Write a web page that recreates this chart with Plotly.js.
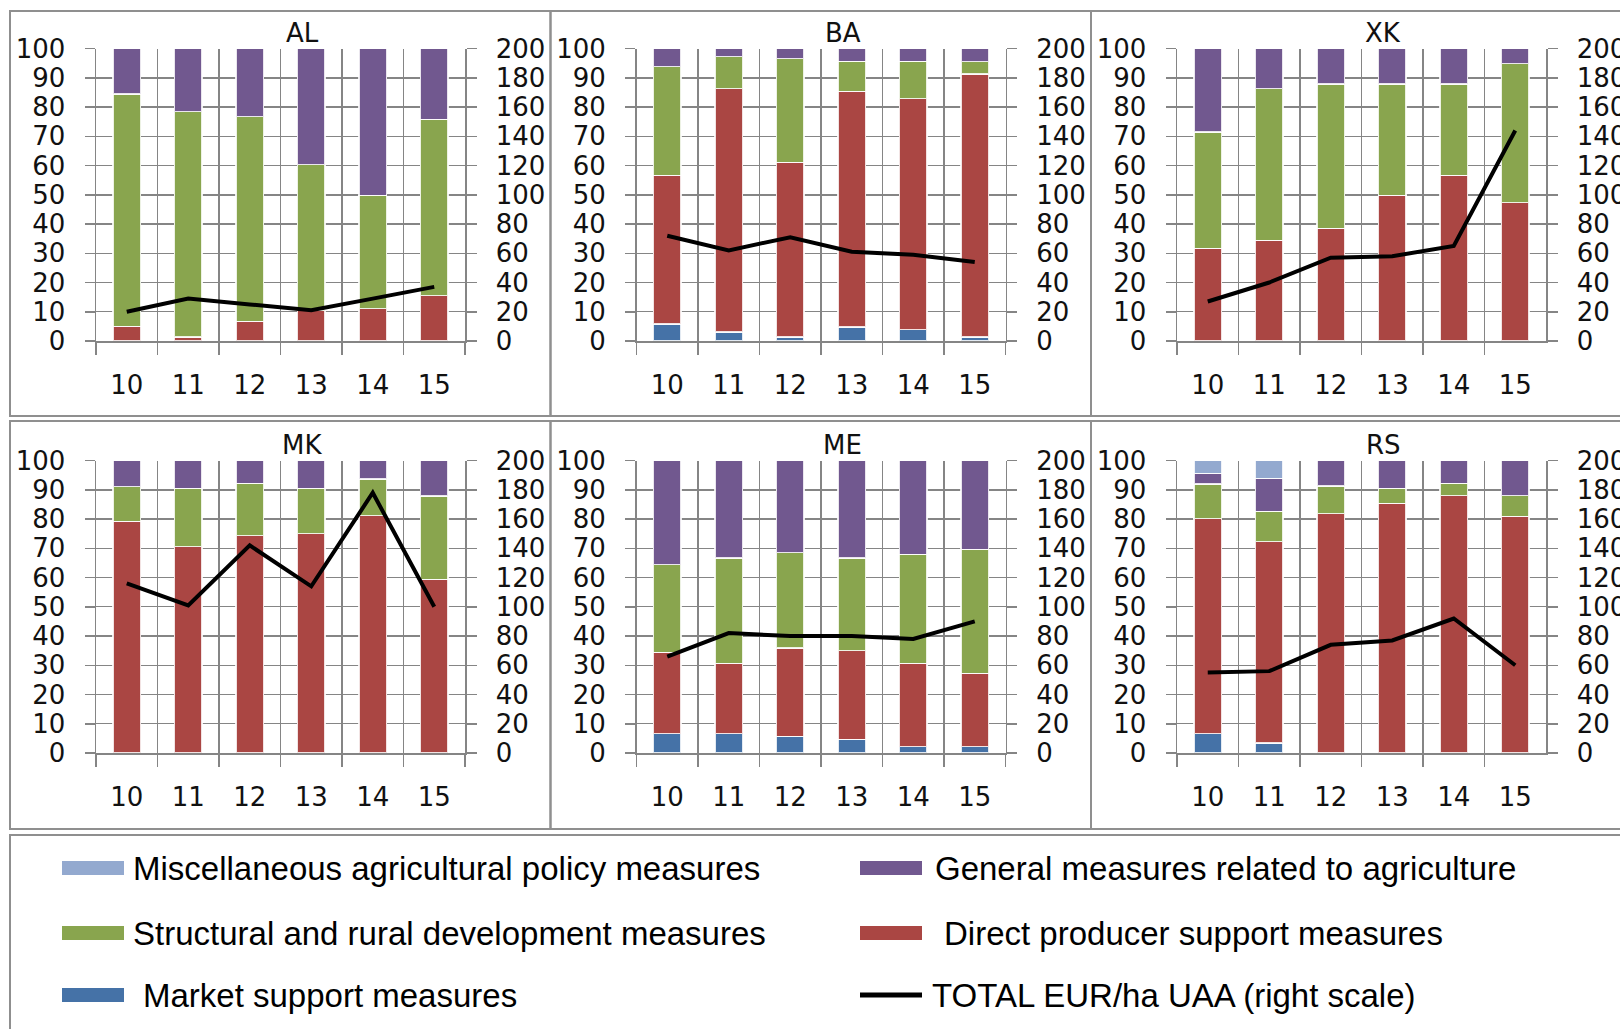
<!DOCTYPE html>
<html>
<head>
<meta charset="utf-8">
<script src="https://cdn.plot.ly/plotly-3.0.1.min.js"></script>
<style>html,body{margin:0;padding:0;background:#fff;}#chart{width:1620px;height:1029px;}</style>
</head>
<body>
<div id="chart"></div>
<script>
// ---------------- DATA ----------------
const years = ['10', '11', '12', '13', '14', '15'];
const countries = ['AL', 'BA', 'XK', 'MK', 'ME', 'RS'];
const seriesNames = [
  'Market support measures',
  'Direct producer support measures',
  'Structural and rural development measures',
  'General measures related to agriculture',
  'Miscellaneous agricultural policy measures'
];
const lineName = 'TOTAL EUR/ha UAA (right scale)';

// shares (%) per group of measures
const alMarket     = [0, 0, 0, 0, 0, 0];
const alDirect     = [5, 1.4, 6.7, 10.4, 11, 15.5];
const alStructural = [79.5, 77, 70, 49.9, 38.8, 60.3];
const alGeneral    = [15.5, 21.6, 23.3, 39.7, 50.2, 24.2];
const alMisc       = [0, 0, 0, 0, 0, 0];
const alTotal      = [20, 29, 25, 21, 29, 37];

const baMarket     = [5.8, 3.1, 1.4, 4.8, 3.9, 1.4];
const baDirect     = [50.9, 83.2, 59.7, 80.6, 78.9, 89.9];
const baStructural = [37.1, 10.9, 35.4, 10.3, 12.9, 4.2];
const baGeneral    = [6.2, 2.8, 3.5, 4.3, 4.3, 4.5];
const baMisc       = [0, 0, 0, 0, 0, 0];
const baTotal      = [72, 62, 71, 61, 59, 54];

const xkMarket     = [0, 0, 0, 0, 0, 0];
const xkDirect     = [31.7, 34.4, 38.6, 49.8, 56.7, 47.3];
const xkStructural = [39.8, 51.9, 49.3, 38.1, 31.2, 47.5];
const xkGeneral    = [28.5, 13.7, 12.1, 12.1, 12.1, 5.2];
const xkMisc       = [0, 0, 0, 0, 0, 0];
const xkTotal      = [27, 40, 57, 58, 65, 144];

const mkMarket     = [0, 0, 0, 0, 0, 0];
const mkDirect     = [79.2, 70.6, 74.3, 75, 81.2, 59.4];
const mkStructural = [11.9, 19.9, 18, 15.5, 12.5, 28.5];
const mkGeneral    = [8.9, 9.5, 7.7, 9.5, 6.3, 12.1];
const mkMisc       = [0, 0, 0, 0, 0, 0];
const mkTotal      = [116, 101, 142, 114, 178, 100];

const meMarket     = [6.6, 6.6, 5.7, 4.7, 2.2, 2.2];
const meDirect     = [27.8, 24.1, 30.2, 30.3, 28.5, 25];
const meStructural = [30, 36, 32.6, 31.7, 37.3, 42.4];
const meGeneral    = [35.6, 33.3, 31.5, 33.3, 32, 30.4];
const meMisc       = [0, 0, 0, 0, 0, 0];
const meTotal      = [66, 82, 80, 80, 78, 90];

const rsMarket     = [6.6, 3.4, 0, 0, 0, 0];
const rsDirect     = [73.6, 68.9, 81.9, 85.4, 88, 81];
const rsStructural = [11.8, 10.4, 9.4, 5.1, 4.3, 7];
const rsGeneral    = [3.7, 11.3, 8.7, 9.5, 7.7, 12];
const rsMisc       = [4.3, 6, 0, 0, 0, 0];
const rsTotal      = [55, 56, 74, 77, 92, 60];

const leftTicks  = [0, 10, 20, 30, 40, 50, 60, 70, 80, 90, 100];
const rightTicks = [0, 20, 40, 60, 80, 100, 120, 140, 160, 180, 200];

// ---------------- STYLE ----------------
const seriesColors = ['#4572A7', '#AA4643', '#89A54E', '#71588F', '#93A9CF'];
const panelShares = [
  [alMarket, alDirect, alStructural, alGeneral, alMisc],
  [baMarket, baDirect, baStructural, baGeneral, baMisc],
  [xkMarket, xkDirect, xkStructural, xkGeneral, xkMisc],
  [mkMarket, mkDirect, mkStructural, mkGeneral, mkMisc],
  [meMarket, meDirect, meStructural, meGeneral, meMisc],
  [rsMarket, rsDirect, rsStructural, rsGeneral, rsMisc]
];
const panelTotals = [alTotal, baTotal, xkTotal, mkTotal, meTotal, rsTotal];

const W = 1620, H = 1029;
const px = x => x / W;
const py = y => 1 - y / H;
const colW = 540.5, rowH = 412;
const GRID = '#858585';
const TICKFONT = {family: 'DejaVu Sans, Verdana, sans-serif', size: 26, color: '#111'};
const LEGFONT = {family: 'Liberation Sans Narrow, Arial Narrow, Liberation Sans, Arial, sans-serif', size: 33, color: '#000'};

const traces = [];
const layout = {
  width: W, height: H,
  margin: {l: 0, r: 0, t: 0, b: 0},
  paper_bgcolor: '#fff', plot_bgcolor: '#fff',
  barmode: 'stack', bargap: 0.55,
  showlegend: false,
  shapes: [], annotations: []
};

countries.forEach((cc, i) => {
  const c = i % 3, r = Math.floor(i / 3);
  const n = i + 1;
  const xId = n === 1 ? 'x' : 'x' + n;
  const yId = n === 1 ? 'y' : 'y' + n;
  const y2Id = 'y' + (n + 6);
  const xL = 96 + colW * c, xR = 465 + colW * c;
  const yT = 48.6 + rowH * r, yB = 341 + rowH * r;

  layout[n === 1 ? 'xaxis' : 'xaxis' + n] = {
    domain: [px(xL), px(xR)], anchor: yId,
    type: 'category', categoryorder: 'array', categoryarray: years,
    range: [-0.5, 5.5], tickson: 'boundaries',
    ticks: 'outside', ticklen: 12, tickwidth: 1.5, tickcolor: GRID,
    showline: true, linecolor: GRID, linewidth: 1.5,
    showgrid: true, gridcolor: GRID, gridwidth: 1.3,
    zeroline: false, tickfont: TICKFONT, ticklabelstandoff: 20, fixedrange: true
  };
  layout[n === 1 ? 'yaxis' : 'yaxis' + n] = {
    domain: [py(yB), py(yT)], anchor: xId,
    range: [0, 100], tickvals: leftTicks, ticktext: leftTicks.map(String),
    ticks: 'outside', ticklen: 10, tickwidth: 1.5, tickcolor: GRID,
    showline: true, linecolor: GRID, linewidth: 1.5,
    showgrid: true, gridcolor: GRID, gridwidth: 1.4,
    zeroline: false, tickfont: TICKFONT, ticklabelstandoff: 14, fixedrange: true
  };
  layout['yaxis' + (n + 6)] = {
    domain: [py(yB), py(yT)], anchor: xId, overlaying: yId, side: 'right',
    range: [0, 200], tickvals: rightTicks, ticktext: rightTicks.map(String),
    ticks: 'outside', ticklen: 10, tickwidth: 1.5, tickcolor: GRID,
    showline: true, linecolor: GRID, linewidth: 1.5,
    showgrid: false, zeroline: false, tickfont: TICKFONT, ticklabelstandoff: 14, fixedrange: true
  };

  panelShares[i].forEach((vals, s) => {
    traces.push({
      type: 'bar', x: years, y: vals.map(v => v === 0 ? null : v),
      name: seriesNames[s], xaxis: xId, yaxis: yId,
      marker: {color: seriesColors[s], line: {color: 'rgba(255,255,255,0.85)', width: 1.2}},
      hoverinfo: 'skip'
    });
  });
  traces.push({
    type: 'scatter', mode: 'lines', x: years, y: panelTotals[i],
    name: lineName, xaxis: xId, yaxis: y2Id,
    line: {color: '#000', width: 4}, hoverinfo: 'skip'
  });

  // panel frame
  const bx0 = 10 + colW * c, bx1 = bx0 + colW;
  const by0 = r === 0 ? 11 : 421, by1 = r === 0 ? 416 : 829;
  layout.shapes.push({type: 'rect', xref: 'paper', yref: 'paper',
    x0: px(bx0), x1: px(bx1), y0: py(by1), y1: py(by0),
    line: {color: '#8f8f8f', width: 2}, fillcolor: 'rgba(0,0,0,0)'});
  // panel title
  layout.annotations.push({xref: 'paper', yref: 'paper',
    x: px(302 + colW * c), y: py(33 + rowH * r), xanchor: 'center', yanchor: 'middle',
    text: cc, showarrow: false,
    font: {family: 'DejaVu Sans, Verdana, sans-serif', size: 26, color: '#111'}});
});

// legend box
layout.shapes.push({type: 'rect', xref: 'paper', yref: 'paper',
  x0: px(10), x1: px(1640), y0: py(1040), y1: py(835),
  line: {color: '#8f8f8f', width: 2}, fillcolor: 'rgba(0,0,0,0)'});

// legend entries: [series index or -1 for line, swatch x0, row y, text x]
const legendItems = [
  [4, 62, 868, 131],
  [3, 860, 868, 933],
  [2, 62, 933, 131],
  [1, 860, 933, 942],
  [0, 62, 995, 141],
  [-1, 860, 995, 930]
];
legendItems.forEach(([s, sx, sy, tx]) => {
  if (s >= 0) {
    layout.shapes.push({type: 'rect', xref: 'paper', yref: 'paper',
      x0: px(sx), x1: px(sx + 62), y0: py(sy + 7), y1: py(sy - 7),
      line: {width: 0}, fillcolor: seriesColors[s]});
  } else {
    layout.shapes.push({type: 'line', xref: 'paper', yref: 'paper',
      x0: px(sx), x1: px(sx + 62), y0: py(sy), y1: py(sy),
      line: {color: '#000', width: 5}});
  }
  layout.annotations.push({xref: 'paper', yref: 'paper',
    x: px(tx), y: py(sy), xanchor: 'left', yanchor: 'middle',
    text: s >= 0 ? seriesNames[s] : lineName, showarrow: false, font: LEGFONT});
});

Plotly.newPlot('chart', traces, layout, {staticPlot: true, displayModeBar: false});
</script>
</body>
</html>
